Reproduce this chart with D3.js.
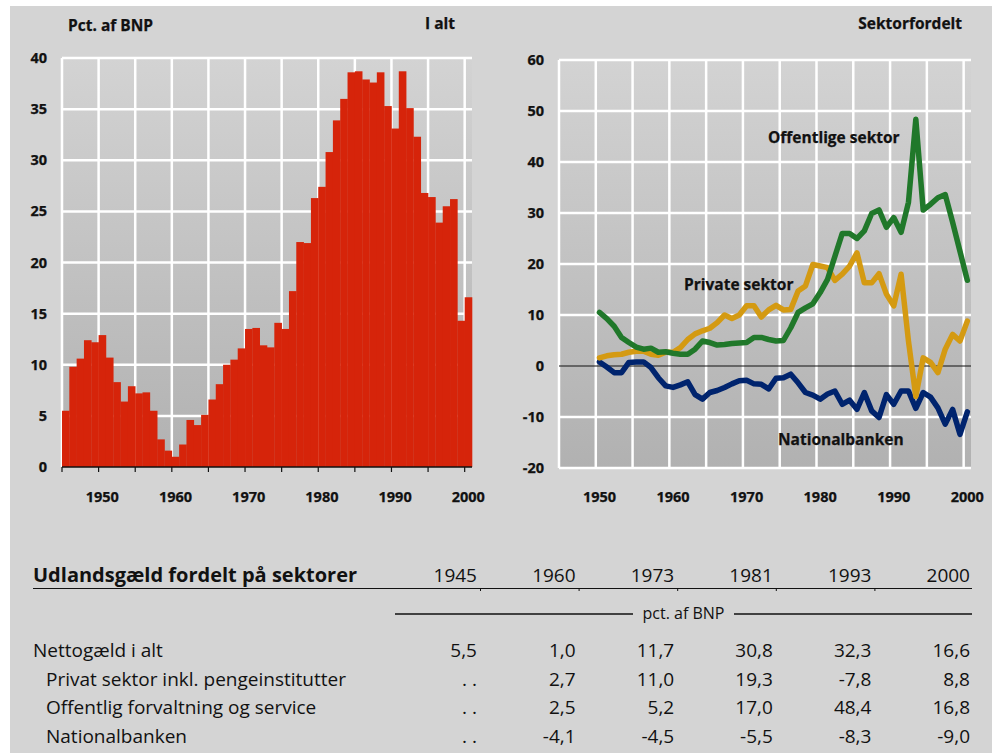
<!DOCTYPE html>
<html lang="da">
<head>
<meta charset="UTF-8">
<title>Udlandsgæld</title>
<script src="https://d3js.org/d3.v7.min.js"></script>
<style>
  body { margin: 0; background: #fff; }
  svg text { font-family: "Open Sans", sans-serif; fill: #111; }
  .lbl { font-weight: bold; font-size: 14.5px; stroke: #111; stroke-width: 0.25px; }
  .ann { font-weight: bold; font-size: 15.5px; stroke: #111; stroke-width: 0.25px; }
  .tbl { font-size: 19px; }
</style>
</head>
<body>
<svg id="chart" width="1001" height="753"></svg>
<script>
// --- data ---
const years = d3.range(1945, 2001);
const lineYears = d3.range(1950, 2001);

// Nettogæld i alt, pct. af BNP, 1945-2000
const total = [5.5, 9.8, 10.6, 12.4, 12.2, 12.9, 10.7, 8.3, 6.4, 7.9,
  7.2, 7.3, 5.5, 2.7, 1.6, 1.0, 2.2, 4.6, 4.1, 5.1,
  6.6, 8.1, 10.0, 10.5, 11.6, 13.5, 13.6, 11.9, 11.7, 14.1,
  13.5, 17.2, 22.0, 21.9, 26.3, 27.4, 30.8, 33.9, 36.0, 38.6,
  38.7, 37.9, 37.6, 38.6, 35.3, 33.1, 38.7, 35.1, 32.3, 26.8,
  26.4, 23.9, 25.5, 26.2, 14.3, 16.6];

// sektorfordelt, 1950-2000
const offentlig = [10.5, 9.3, 7.8, 5.6, 4.6, 3.7, 3.3, 3.5, 2.7, 2.8,
  2.5, 2.3, 2.3, 3.3, 4.9, 4.6, 4.1, 4.2, 4.4, 4.5,
  4.6, 5.6, 5.6, 5.2, 4.9, 5.0, 7.5, 10.5, 11.4, 12.2,
  14.4, 17.0, 21.5, 26.0, 26.0, 25.0, 26.5, 29.9, 30.6, 27.2,
  29.1, 26.2, 32.1, 48.4, 30.6, 31.7, 33.0, 33.6, 28.2, 22.5,
  16.8];
const privat = [1.6, 2.0, 2.2, 2.3, 2.7, 2.9, 2.9, 2.3, 2.1, 2.7,
  2.7, 3.6, 5.2, 6.3, 6.9, 7.4, 8.5, 10.0, 9.3, 10.0,
  11.8, 11.8, 9.6, 11.0, 11.9, 11.0, 11.1, 14.7, 15.7, 19.9,
  19.6, 19.3, 16.8, 18.0, 19.6, 22.2, 16.3, 16.3, 18.1, 14.1,
  11.8, 18.0, 4.9, -6.0, 1.6, 0.7, -1.3, 3.3, 6.2, 4.9,
  8.8];
const national = [0.8, -0.2, -1.3, -1.3, 0.7, 0.8, 0.8, -0.3, -2.3, -3.9,
  -4.2, -3.7, -3.1, -5.6, -6.5, -5.2, -4.8, -4.2, -3.5, -2.9,
  -2.8, -3.5, -3.6, -4.5, -2.4, -2.3, -1.6, -3.3, -5.2, -5.7,
  -6.5, -5.5, -4.9, -7.5, -6.7, -8.5, -5.2, -8.8, -10.1, -5.6,
  -7.5, -4.9, -4.9, -8.3, -5.2, -6.1, -8.2, -11.4, -8.5, -13.4,
  -9.0];

const xTicks = [1950, 1960, 1970, 1980, 1990, 2000];
const leftYTicks = [0, 5, 10, 15, 20, 25, 30, 35, 40];
const rightYTicks = [-20, -10, 0, 10, 20, 30, 40, 50, 60];

const tableYears = ["1945", "1960", "1973", "1981", "1993", "2000"];
const tableRows = ["Nettogæld i alt", "Privat sektor inkl. pengeinstitutter",
  "Offentlig forvaltning og service", "Nationalbanken"];
const tableValues = [
  ["5,5", "1,0", "11,7", "30,8", "32,3", "16,6"],
  [". .", "2,7", "11,0", "19,3", "-7,8", "8,8"],
  [". .", "2,5", "5,2", "17,0", "48,4", "16,8"],
  [". .", "-4,1", "-4,5", "-5,5", "-8,3", "-9,0"]
];

const svg = d3.select("#chart");

// grey panel
svg.append("rect").attr("x", 10).attr("y", 6).attr("width", 982).attr("height", 747)
  .attr("fill", "#d4d4d4");

const grad = svg.append("defs").append("linearGradient")
  .attr("id", "plotbg").attr("x1", 0).attr("y1", 0).attr("x2", 0).attr("y2", 1);
grad.append("stop").attr("offset", "0%").attr("stop-color", "#d3d3d3");
grad.append("stop").attr("offset", "100%").attr("stop-color", "#b1b1b1");

function panel(x0, x1, y) {
  const x = d3.scaleBand().domain(years).range([x0, x1]).paddingInner(0).paddingOuter(0);
  const [yb, yt] = y.range();
  const g = svg.append("g");
  g.append("rect").attr("x", x0).attr("y", yt).attr("width", x1 - x0).attr("height", yb - yt)
    .attr("fill", "url(#plotbg)");
  // vertical grid every 5 years
  g.selectAll(".vg").data(years.filter(d => d % 5 === 0)).enter().append("line")
    .attr("x1", d => x(d)).attr("x2", d => x(d))
    .attr("y1", yt).attr("y2", yb)
    .attr("stroke", "#fff").attr("stroke-width", 2.5);
  return { x, g };
}

// --- left: I alt ---
const yL = d3.scaleLinear().domain([0, 40]).range([467, 58]);
const L = panel(62, 472, yL);
L.g.selectAll(".hg").data(leftYTicks.filter(d => d > 0)).enter().append("line")
  .attr("x1", 62).attr("x2", 472).attr("y1", d => yL(d)).attr("y2", d => yL(d))
  .attr("stroke", "#fff").attr("stroke-width", 2.5);
L.g.selectAll(".bar").data(total).enter().append("rect")
  .attr("x", (d, i) => L.x(years[i]))
  .attr("width", L.x.bandwidth() + 0.3)
  .attr("y", d => yL(d))
  .attr("height", d => yL(0) - yL(d))
  .attr("fill", "#d6240a");
L.g.append("line").attr("x1", 62).attr("x2", 472).attr("y1", yL(0)).attr("y2", yL(0))
  .attr("stroke", "#111").attr("stroke-width", 1.5);
L.g.selectAll(".tk").data(years.filter(d => d % 5 === 0)).enter().append("line")
  .attr("x1", d => L.x(d)).attr("x2", d => L.x(d))
  .attr("y1", yL(0)).attr("y2", yL(0) + 5)
  .attr("stroke", "#111").attr("stroke-width", 1.2);
L.g.selectAll(".yl").data(leftYTicks).enter().append("text").attr("class", "lbl")
  .attr("x", 47).attr("y", d => yL(d) + 5).attr("text-anchor", "end").text(d => d);
L.g.selectAll(".xl").data(xTicks).enter().append("text").attr("class", "lbl")
  .attr("x", d => L.x(d) + L.x.bandwidth() / 2).attr("y", 502)
  .attr("text-anchor", "middle").text(d => d);
svg.append("text").attr("class", "ann").attr("x", 68).attr("y", 31).text("Pct. af BNP");
svg.append("text").attr("class", "ann").attr("x", 455).attr("y", 29)
  .attr("text-anchor", "end").text("I alt");

// --- right: Sektorfordelt ---
const yR = d3.scaleLinear().domain([-20, 60]).range([468, 60]);
const R = panel(559, 971, yR);
R.g.selectAll(".hg").data(rightYTicks.filter(d => d !== 0)).enter().append("line")
  .attr("x1", 559).attr("x2", 971).attr("y1", d => yR(d)).attr("y2", d => yR(d))
  .attr("stroke", "#fff").attr("stroke-width", 2.5);
R.g.append("line").attr("x1", 559).attr("x2", 971).attr("y1", yR(0)).attr("y2", yR(0))
  .attr("stroke", "#111").attr("stroke-width", 1);

const line = d3.line()
  .x((d, i) => R.x(lineYears[i]) + R.x.bandwidth() / 2)
  .y(d => yR(d));
[[national, "#00246e"], [privat, "#d49a12"], [offentlig, "#20782a"]].forEach(([s, c]) => {
  R.g.append("path").attr("d", line(s)).attr("fill", "none")
    .attr("stroke", c).attr("stroke-width", 5.5)
    .attr("stroke-linejoin", "round").attr("stroke-linecap", "round");
});
R.g.selectAll(".yl").data(rightYTicks).enter().append("text").attr("class", "lbl")
  .attr("x", 544).attr("y", d => yR(d) + 5).attr("text-anchor", "end").text(d => d);
R.g.selectAll(".xl").data(xTicks).enter().append("text").attr("class", "lbl")
  .attr("x", d => R.x(d) + R.x.bandwidth() / 2).attr("y", 502)
  .attr("text-anchor", "middle").text(d => d);
svg.append("text").attr("class", "ann").attr("x", 962).attr("y", 29)
  .attr("text-anchor", "end").text("Sektorfordelt");
svg.append("text").attr("class", "ann").attr("x", 768).attr("y", 143).text("Offentlige sektor");
svg.append("text").attr("class", "ann").attr("x", 684).attr("y", 290).text("Private sektor");
svg.append("text").attr("class", "ann").attr("x", 778).attr("y", 445).text("Nationalbanken");

// --- table ---
const colX = d3.scalePoint().domain(tableYears).range([477, 970]);
const t = svg.append("g");
t.append("text").attr("class", "tbl").attr("x", 33).attr("y", 582)
  .style("font-weight", "bold").style("font-size", "20px").text("Udlandsgæld fordelt på sektorer");
t.selectAll(".ty").data(tableYears).enter().append("text").attr("class", "tbl")
  .attr("x", d => colX(d)).attr("y", 582).attr("text-anchor", "end").text(d => d);
t.append("line").attr("x1", 33).attr("x2", 972).attr("y1", 588.5).attr("y2", 588.5)
  .attr("stroke", "#111").attr("stroke-width", 1.2);
t.selectAll(".sep").data(tableYears.slice(0, 5)).enter().append("line")
  .attr("x1", d => colX(d) + 3.5).attr("x2", d => colX(d) + 3.5)
  .attr("y1", 588.5).attr("y2", 591).attr("stroke", "#111").attr("stroke-width", 1);
t.append("line").attr("x1", 395).attr("x2", 633).attr("y1", 614).attr("y2", 614)
  .attr("stroke", "#111").attr("stroke-width", 1.5);
t.append("line").attr("x1", 734).attr("x2", 972).attr("y1", 614).attr("y2", 614)
  .attr("stroke", "#111").attr("stroke-width", 1.5);
t.append("text").attr("x", 683.5).attr("y", 619).attr("text-anchor", "middle")
  .style("font-size", "16px").text("pct. af BNP");

tableRows.forEach((r, i) => {
  const yy = 657 + i * 28.6;
  t.append("text").attr("class", "tbl").attr("x", i === 0 ? 33 : 46).attr("y", yy).text(r);
  t.selectAll(".v" + i).data(tableValues[i]).enter().append("text").attr("class", "tbl")
    .attr("x", (d, j) => colX(tableYears[j])).attr("y", yy)
    .attr("text-anchor", "end").text(d => d);
});
</script>
</body>
</html>
